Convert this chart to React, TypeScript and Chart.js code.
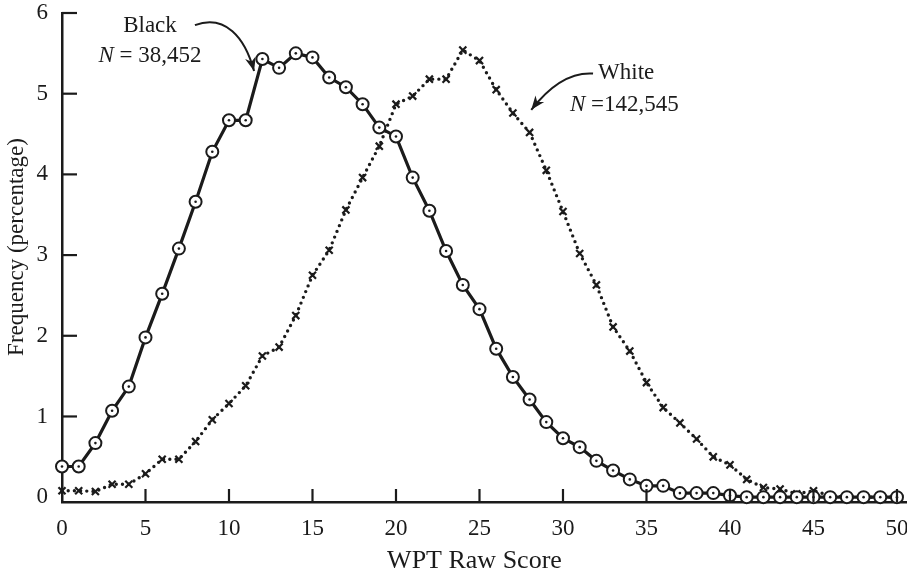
import React, { useEffect, useRef } from "react";
import { Chart, registerables } from "chart.js";

Chart.register(...registerables);

const scores = [0, 1, 2, 3, 4, 5, 6, 7, 8, 9, 10, 11, 12, 13, 14, 15, 16, 17, 18, 19, 20, 21, 22, 23, 24, 25, 26, 27, 28, 29, 30, 31, 32, 33, 34, 35, 36, 37, 38, 39, 40, 41, 42, 43, 44, 45, 46, 47, 48, 49, 50];

const blackFreq = [0.38, 0.38, 0.67, 1.07, 1.37, 1.98, 2.52, 3.08, 3.66, 4.28, 4.67, 4.67, 5.43, 5.32, 5.5, 5.45, 5.2, 5.08, 4.87, 4.58, 4.47, 3.96, 3.55, 3.05, 2.63, 2.33, 1.84, 1.49, 1.21, 0.93, 0.73, 0.62, 0.45, 0.33, 0.22, 0.14, 0.14, 0.05, 0.05, 0.05, 0.02, 0, 0, 0, 0, 0, 0, 0, 0, 0, 0];

const whiteFreq = [0.08, 0.08, 0.07, 0.16, 0.16, 0.29, 0.47, 0.47, 0.69, 0.96, 1.16, 1.38, 1.75, 1.86, 2.25, 2.75, 3.06, 3.56, 3.96, 4.35, 4.87, 4.97, 5.18, 5.18, 5.54, 5.41, 5.05, 4.76, 4.52, 4.05, 3.54, 3.02, 2.63, 2.11, 1.81, 1.42, 1.11, 0.92, 0.72, 0.5, 0.4, 0.22, 0.12, 0.1, 0.04, 0.08, 0.02, 0, 0, 0, 0];

const xTickValues = [0, 5, 10, 15, 20, 25, 30, 35, 40, 45, 50];
const yTickValues = [0, 1, 2, 3, 4, 5, 6];

const xTitle = "WPT Raw Score";
const yTitle = "Frequency (percentage)";

const blackLabel = "Black";
const blackN = "38,452";
const whiteLabel = "White";
const whiteN = "142,545";

const INK = "#1b1b1b";
const SERIF = "'Liberation Serif', 'Times New Roman', serif";

const toPts = (ys: number[]) => scores.map((x, i) => ({ x, y: ys[i] }));

const inwardTicks = {
  id: "inwardTicks",
  afterDraw(chart: any) {
    const { ctx, chartArea, scales } = chart;
    ctx.save();
    ctx.strokeStyle = INK;
    ctx.lineWidth = 2.2;
    xTickValues.forEach((v) => {
      if (v === 0) return;
      const px = scales.x.getPixelForValue(v);
      ctx.beginPath();
      ctx.moveTo(px, chartArea.bottom);
      ctx.lineTo(px, chartArea.bottom - 13);
      ctx.stroke();
    });
    yTickValues.forEach((v) => {
      if (v === 0) return;
      const py = scales.y.getPixelForValue(v);
      ctx.beginPath();
      ctx.moveTo(chartArea.left, py);
      ctx.lineTo(chartArea.left + 15, py);
      ctx.stroke();
    });
    ctx.restore();
  },
};

const axisTitles = {
  id: "axisTitles",
  afterDraw(chart: any) {
    const { ctx, scales, height } = chart;
    ctx.save();
    ctx.fillStyle = INK;
    ctx.textAlign = "center";
    ctx.textBaseline = "middle";
    ctx.font = `26px ${SERIF}`;
    ctx.fillText(xTitle, scales.x.getPixelForValue(24.7), height - 12);
    ctx.translate(17, scales.y.getPixelForValue(3.1));
    ctx.rotate(-Math.PI / 2);
    ctx.font = `23px ${SERIF}`;
    ctx.fillText(yTitle, 0, 0);
    ctx.restore();
  },
};

function drawArrow(ctx: any, pts: number[][]) {
  const [s, c1, c2, e] = pts;
  ctx.beginPath();
  ctx.moveTo(s[0], s[1]);
  ctx.bezierCurveTo(c1[0], c1[1], c2[0], c2[1], e[0], e[1]);
  ctx.stroke();
  const ang = Math.atan2(e[1] - c2[1], e[0] - c2[0]);
  const L = 14;
  const W = 5.5;
  ctx.beginPath();
  ctx.moveTo(e[0], e[1]);
  ctx.lineTo(e[0] - L * Math.cos(ang) + W * Math.sin(ang), e[1] - L * Math.sin(ang) - W * Math.cos(ang));
  ctx.lineTo(e[0] - L * 0.7 * Math.cos(ang), e[1] - L * 0.7 * Math.sin(ang));
  ctx.lineTo(e[0] - L * Math.cos(ang) - W * Math.sin(ang), e[1] - L * Math.sin(ang) + W * Math.cos(ang));
  ctx.closePath();
  ctx.fill();
}

function drawNText(ctx: any, x: number, y: number, rest: string, align: "left" | "center") {
  ctx.font = `italic 23px ${SERIF}`;
  const wN = ctx.measureText("N").width;
  ctx.font = `23px ${SERIF}`;
  const wR = ctx.measureText(rest).width;
  const total = wN + wR;
  const start = align === "center" ? x - total / 2 : x;
  ctx.textAlign = "left";
  ctx.font = `italic 23px ${SERIF}`;
  ctx.fillText("N", start, y);
  ctx.font = `23px ${SERIF}`;
  ctx.fillText(rest, start + wN, y);
}

const annotations = {
  id: "annotations",
  afterDraw(chart: any) {
    const { ctx, scales } = chart;
    const X = (v: number) => scales.x.getPixelForValue(v);
    const Y = (v: number) => scales.y.getPixelForValue(v);
    ctx.save();
    ctx.fillStyle = INK;
    ctx.strokeStyle = INK;
    ctx.lineWidth = 2;
    ctx.textBaseline = "middle";
    ctx.font = `23px ${SERIF}`;
    ctx.textAlign = "center";
    ctx.fillText(blackLabel, X(5.27), Y(5.84));
    drawNText(ctx, X(5.27), Y(5.47), " = " + blackN, "center");
    drawArrow(ctx, [
      [X(7.96), Y(5.85)],
      [X(9.76), Y(5.99)],
      [X(10.96), Y(5.7)],
      [X(11.5), Y(5.28)],
    ]);
    ctx.font = `23px ${SERIF}`;
    ctx.textAlign = "left";
    ctx.fillText(whiteLabel, X(32.1), Y(5.26));
    drawNText(ctx, X(30.42), Y(4.86), " =" + whiteN, "left");
    drawArrow(ctx, [
      [X(31.8), Y(5.25)],
      [X(30.42), Y(5.27)],
      [X(29.22), Y(5.1)],
      [X(28.1), Y(4.8)],
    ]);
    ctx.restore();
  },
};

export default function App() {
  const ref = useRef<HTMLCanvasElement | null>(null);
  useEffect(() => {
    document.body.style.margin = "0";
    document.body.style.background = "#ffffff";
    const canvas = ref.current;
    if (!canvas) return;
    const chart = new Chart(canvas, {
      type: "line",
      data: {
        datasets: [
          {
            label: "Black centers",
            data: toPts(blackFreq),
            showLine: false,
            pointRadius: 1.3,
            pointBackgroundColor: INK,
            pointBorderWidth: 0,
            borderColor: INK,
            clip: false,
          },
          {
            label: "Black",
            data: toPts(blackFreq),
            borderColor: INK,
            borderWidth: 3.2,
            tension: 0,
            pointStyle: "circle",
            pointRadius: 6,
            pointBorderWidth: 2,
            pointBorderColor: INK,
            pointBackgroundColor: "#ffffff",
            clip: false,
          },
          {
            label: "White",
            data: toPts(whiteFreq),
            borderColor: INK,
            borderWidth: 3.4,
            borderDash: [0, 6.2],
            borderCapStyle: "round",
            tension: 0,
            pointStyle: "crossRot",
            pointRadius: 5,
            pointBorderWidth: 2.2,
            pointBorderColor: INK,
            pointBackgroundColor: INK,
            clip: false,
          },
        ],
      },
      options: {
        animation: false,
        responsive: false,
        events: [],
        layout: { autoPadding: false, padding: { top: 13, right: 0, left: 0, bottom: 0 } },
        plugins: {
          legend: { display: false },
          tooltip: { enabled: false },
        },
        scales: {
          x: {
            type: "linear",
            min: 0,
            max: 50.6,
            afterBuildTicks: (scale: any) => {
              scale.ticks = xTickValues.map((v) => ({ value: v }));
            },
            afterFit: (scale: any) => {
              scale.height = 71;
              scale.paddingLeft = 0;
              scale.paddingRight = 0;
            },
            grid: { display: false, drawTicks: false },
            border: { display: true, color: INK, width: 2.5 },
            ticks: {
              color: INK,
              font: { family: SERIF, size: 23 },
              padding: 13,
              maxRotation: 0,
              autoSkip: false,
            },
            title: { display: false, text: xTitle },
          },
          y: {
            type: "linear",
            min: -0.06,
            max: 6,
            afterBuildTicks: (scale: any) => {
              scale.ticks = yTickValues.map((v) => ({ value: v }));
            },
            afterFit: (scale: any) => {
              scale.width = 62;
              scale.paddingTop = 0;
              scale.paddingBottom = 0;
            },
            grid: { display: false, drawTicks: false },
            border: { display: true, color: INK, width: 2.5 },
            ticks: {
              color: INK,
              font: { family: SERIF, size: 23 },
              padding: 14,
            },
            title: { display: false, text: yTitle },
          },
        },
      },
      plugins: [inwardTicks, axisTitles, annotations],
    });
    return () => chart.destroy();
  }, []);
  return (
    <div style={{ width: 907, height: 573, background: "#fff" }}>
      <canvas ref={ref} width={907} height={573} style={{ display: "block" }} />
    </div>
  );
}
